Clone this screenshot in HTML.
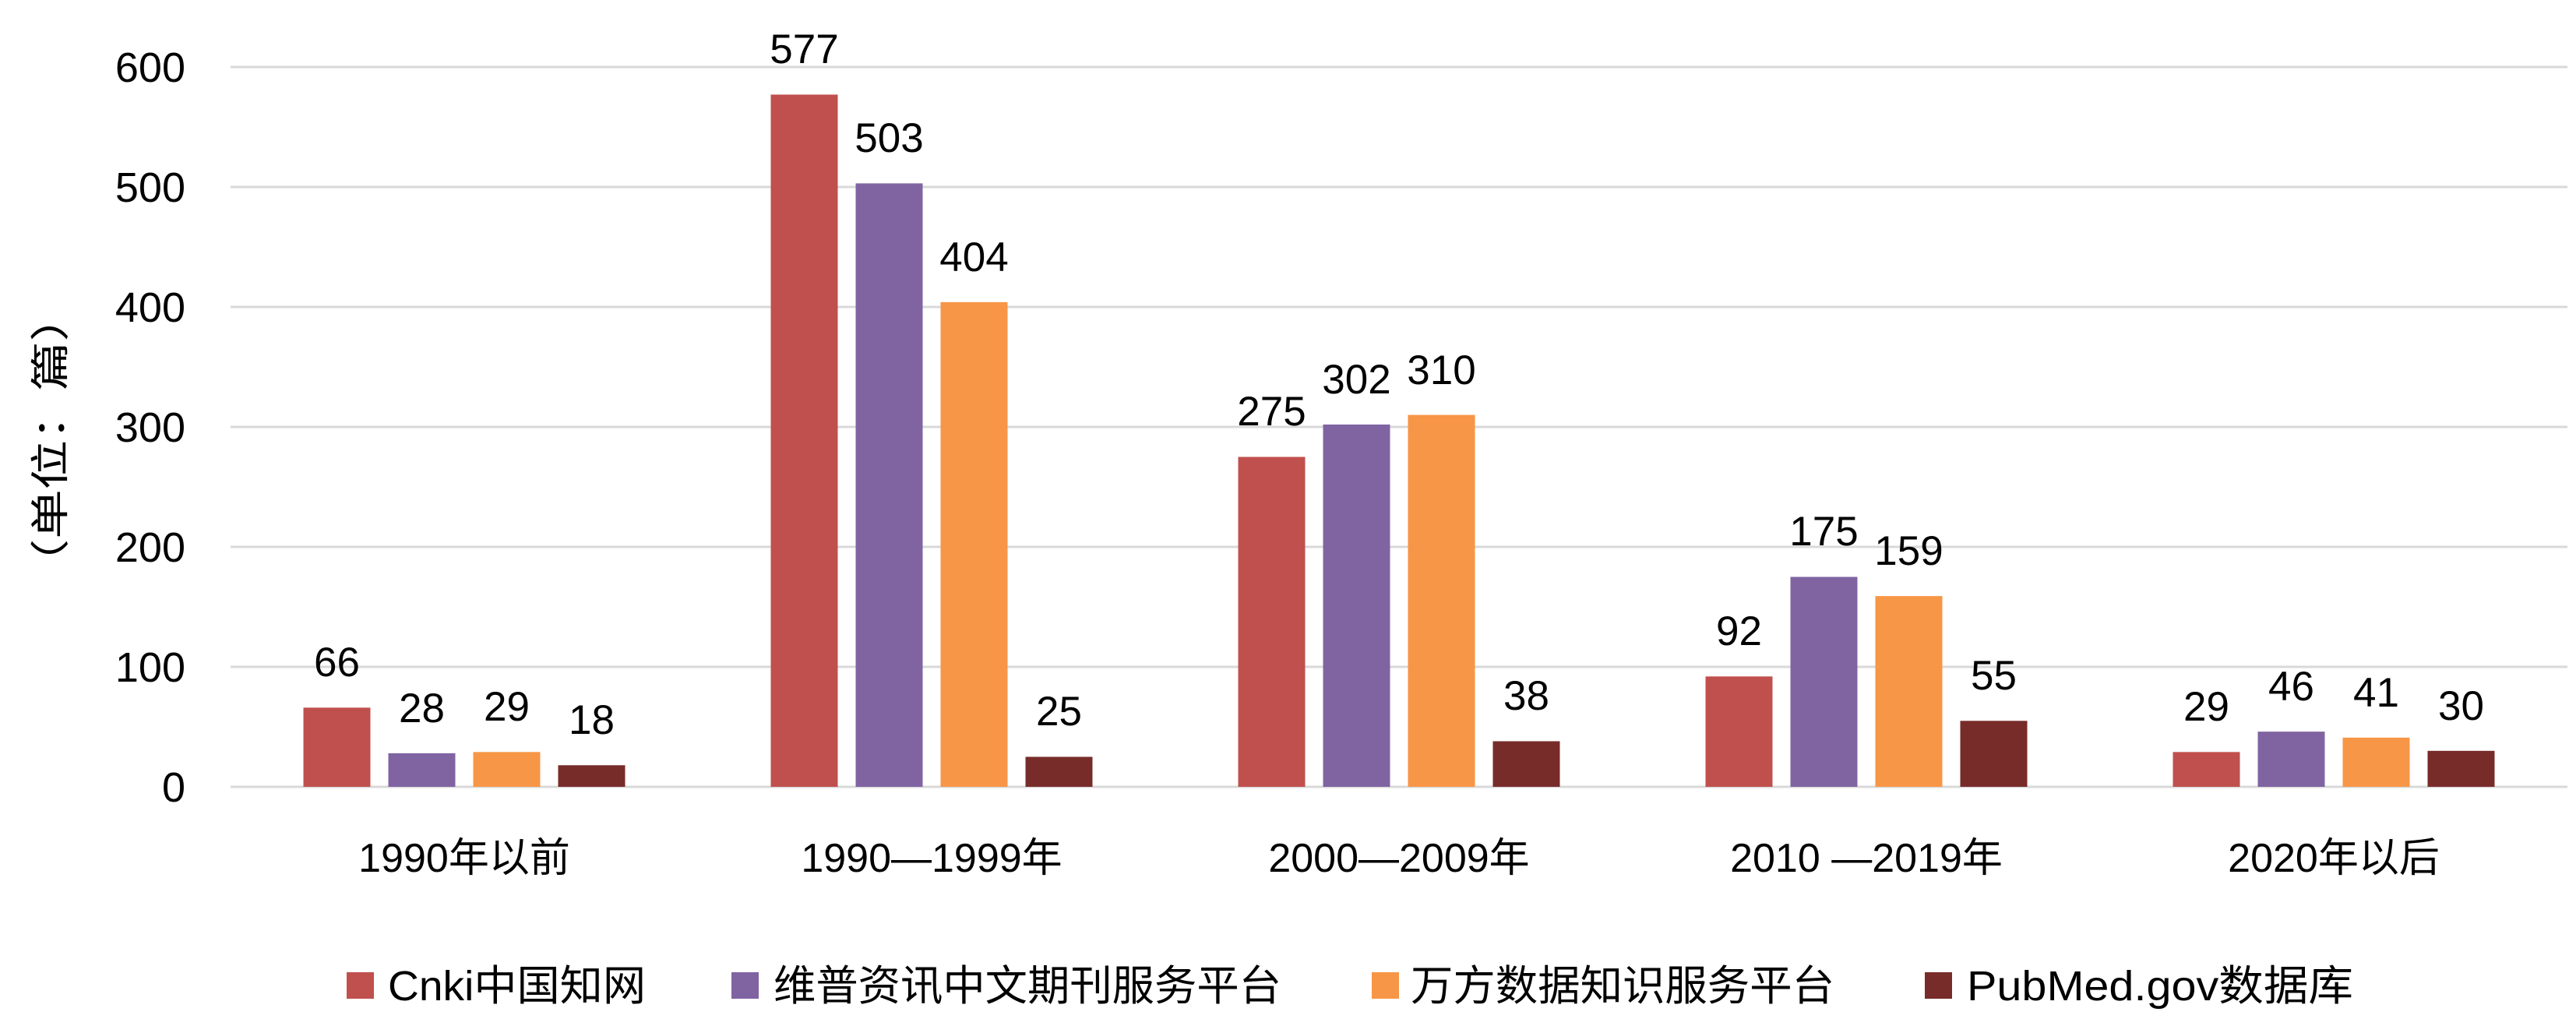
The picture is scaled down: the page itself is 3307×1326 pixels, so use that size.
<!DOCTYPE html>
<html><head><meta charset="utf-8"><style>html,body{margin:0;padding:0;background:#fff}svg{display:block}</style></head>
<body>
<svg width="3307" height="1326" viewBox="0 0 3307 1326" xmlns="http://www.w3.org/2000/svg" font-family="'Liberation Sans','Noto Sans CJK SC',sans-serif">
<g stroke="#d9d9d9" stroke-width="3">
<line x1="296" x2="3296" y1="86" y2="86"/>
<line x1="296" x2="3296" y1="240" y2="240"/>
<line x1="296" x2="3296" y1="394" y2="394"/>
<line x1="296" x2="3296" y1="548" y2="548"/>
<line x1="296" x2="3296" y1="702" y2="702"/>
<line x1="296" x2="3296" y1="856" y2="856"/>
<line x1="296" x2="3296" y1="1010" y2="1010"/>
</g>
<g font-size="54" text-anchor="end" fill="#000">
<text x="238" y="105">600</text>
<text x="238" y="259">500</text>
<text x="238" y="413">400</text>
<text x="238" y="567">300</text>
<text x="238" y="721">200</text>
<text x="238" y="875">100</text>
<text x="238" y="1029">0</text>
</g>
<text transform="translate(82,565) rotate(-90)" font-size="50" text-anchor="middle" textLength="380" lengthAdjust="spacingAndGlyphs">（单位：篇）</text>
<g>
<rect x="389.5" y="908.36" width="86" height="101.64" fill="#C0504D"/>
<rect x="498.5" y="966.88" width="86" height="43.12" fill="#8064A2"/>
<rect x="607.5" y="965.34" width="86" height="44.66" fill="#F79646"/>
<rect x="716.5" y="982.28" width="86" height="27.72" fill="#772C2A"/>
<rect x="989.5" y="121.42" width="86" height="888.58" fill="#C0504D"/>
<rect x="1098.5" y="235.38" width="86" height="774.62" fill="#8064A2"/>
<rect x="1207.5" y="387.84" width="86" height="622.16" fill="#F79646"/>
<rect x="1316.5" y="971.5" width="86" height="38.5" fill="#772C2A"/>
<rect x="1589.5" y="586.5" width="86" height="423.5" fill="#C0504D"/>
<rect x="1698.5" y="544.92" width="86" height="465.08" fill="#8064A2"/>
<rect x="1807.5" y="532.6" width="86" height="477.4" fill="#F79646"/>
<rect x="1916.5" y="951.48" width="86" height="58.52" fill="#772C2A"/>
<rect x="2189.5" y="868.32" width="86" height="141.68" fill="#C0504D"/>
<rect x="2298.5" y="740.5" width="86" height="269.5" fill="#8064A2"/>
<rect x="2407.5" y="765.14" width="86" height="244.86" fill="#F79646"/>
<rect x="2516.5" y="925.3" width="86" height="84.7" fill="#772C2A"/>
<rect x="2789.5" y="965.34" width="86" height="44.66" fill="#C0504D"/>
<rect x="2898.5" y="939.16" width="86" height="70.84" fill="#8064A2"/>
<rect x="3007.5" y="946.86" width="86" height="63.14" fill="#F79646"/>
<rect x="3116.5" y="963.8" width="86" height="46.2" fill="#772C2A"/>
</g>
<g font-size="53" text-anchor="middle">
<text x="432.5" y="868">66</text>
<text x="541.5" y="927">28</text>
<text x="650.5" y="925">29</text>
<text x="759.5" y="942">18</text>
<text x="1032.5" y="81">577</text>
<text x="1141.5" y="195">503</text>
<text x="1250.5" y="348">404</text>
<text x="1359.5" y="931">25</text>
<text x="1632.5" y="546">275</text>
<text x="1741.5" y="505">302</text>
<text x="1850.5" y="493">310</text>
<text x="1959.5" y="911">38</text>
<text x="2232.5" y="828">92</text>
<text x="2341.5" y="700">175</text>
<text x="2450.5" y="725">159</text>
<text x="2559.5" y="885">55</text>
<text x="2832.5" y="925">29</text>
<text x="2941.5" y="899">46</text>
<text x="3050.5" y="907">41</text>
<text x="3159.5" y="924">30</text>
</g>
<g font-size="52" text-anchor="middle">
<text x="596" y="1119">1990年以前</text>
<text x="1196" y="1119">1990—1999年</text>
<text x="1796" y="1119">2000—2009年</text>
<text x="2396" y="1119">2010 —2019年</text>
<text x="2996" y="1119">2020年以后</text>
</g>
<g font-size="54">
<rect x="445" y="1248" width="35" height="34" fill="#C0504D"/>
<text x="498" y="1284" textLength="331" lengthAdjust="spacingAndGlyphs">Cnki中国知网</text>
<rect x="939" y="1248" width="35" height="34" fill="#8064A2"/>
<text x="993" y="1284" textLength="652" lengthAdjust="spacingAndGlyphs">维普资讯中文期刊服务平台</text>
<rect x="1761" y="1248" width="35" height="34" fill="#F79646"/>
<text x="1811" y="1284" textLength="544" lengthAdjust="spacingAndGlyphs">万方数据知识服务平台</text>
<rect x="2471" y="1248" width="35" height="34" fill="#772C2A"/>
<text x="2525" y="1284" textLength="496" lengthAdjust="spacingAndGlyphs">PubMed.gov数据库</text>
</g>
</svg>
</body></html>
